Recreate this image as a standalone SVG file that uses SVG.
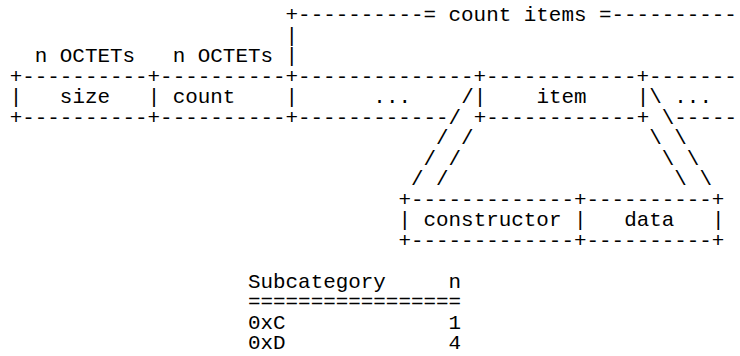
<svg xmlns="http://www.w3.org/2000/svg" width="740" height="356" viewBox="0 0 740 356" xml:space="preserve">
<style>
text { font-family: "Liberation Mono", "DejaVu Sans Mono", monospace; font-size: 20.9px; fill: #000; white-space: pre; }
</style>
<rect x="0" y="0" width="740" height="356" fill="#fff"/>
<g id="count-items">
<text x="285.58" y="21">+----------= count items =----------</text>
<text x="285.58" y="41.5">|</text>
<text x="285.58" y="62">|</text>
</g>
<g id="size-field">
<text x="34.78" y="62">n OCTETs</text>
<text x="59.86" y="103">size</text>
</g>
<g id="count-field">
<text x="172.72" y="62">n OCTETs</text>
<text x="172.72" y="103">count</text>
</g>
<g id="main-row-frame">
<text x="9.7" y="82.5">+----------+----------+--------------+------------+-------</text>
<text x="9.7" y="103">|</text>
<text x="147.64" y="103">|</text>
<text x="285.58" y="103">|</text>
<text x="473.68" y="103">|</text>
<text x="636.7" y="103">|</text>
<text x="9.7" y="123.5">+----------+----------+------------</text>
<text x="473.68" y="123.5">+------------+</text>
<text x="674.32" y="123.5">-----</text>
</g>
<g id="ellipsis-before">
<text x="373.36" y="103">...</text>
</g>
<g id="item">
<text x="536.38" y="103">item</text>
</g>
<g id="ellipsis-after">
<text x="674.32" y="103">...</text>
</g>
<g id="connectors">
<text x="461.14" y="103">/</text>
<text x="649.24" y="103">\</text>
<text x="448.6" y="123.5">/</text>
<text x="661.78" y="123.5">\</text>
<text x="436.06" y="144">/ /</text>
<text x="649.24" y="144">\ \</text>
<text x="423.52" y="164.5">/ /</text>
<text x="661.78" y="164.5">\ \</text>
<text x="410.98" y="185">/ /</text>
<text x="674.32" y="185">\ \</text>
</g>
<g id="constructor-data-box">
<text x="398.44" y="205.5">+-------------+----------+</text>
<text x="398.44" y="226">|</text>
<text x="574.0" y="226">|</text>
<text x="711.94" y="226">|</text>
<text x="398.44" y="246.5">+-------------+----------+</text>
</g>
<g id="constructor">
<text x="423.52" y="226">constructor</text>
</g>
<g id="data">
<text x="624.16" y="226">data</text>
</g>
<g id="subcategory-table">
<text x="247.96" y="287.5">Subcategory     n</text>
<text x="247.96" y="308">=================</text>
<text x="247.96" y="328.5">0xC             1</text>
<text x="247.96" y="349">0xD             4</text>
</g>
</svg>
